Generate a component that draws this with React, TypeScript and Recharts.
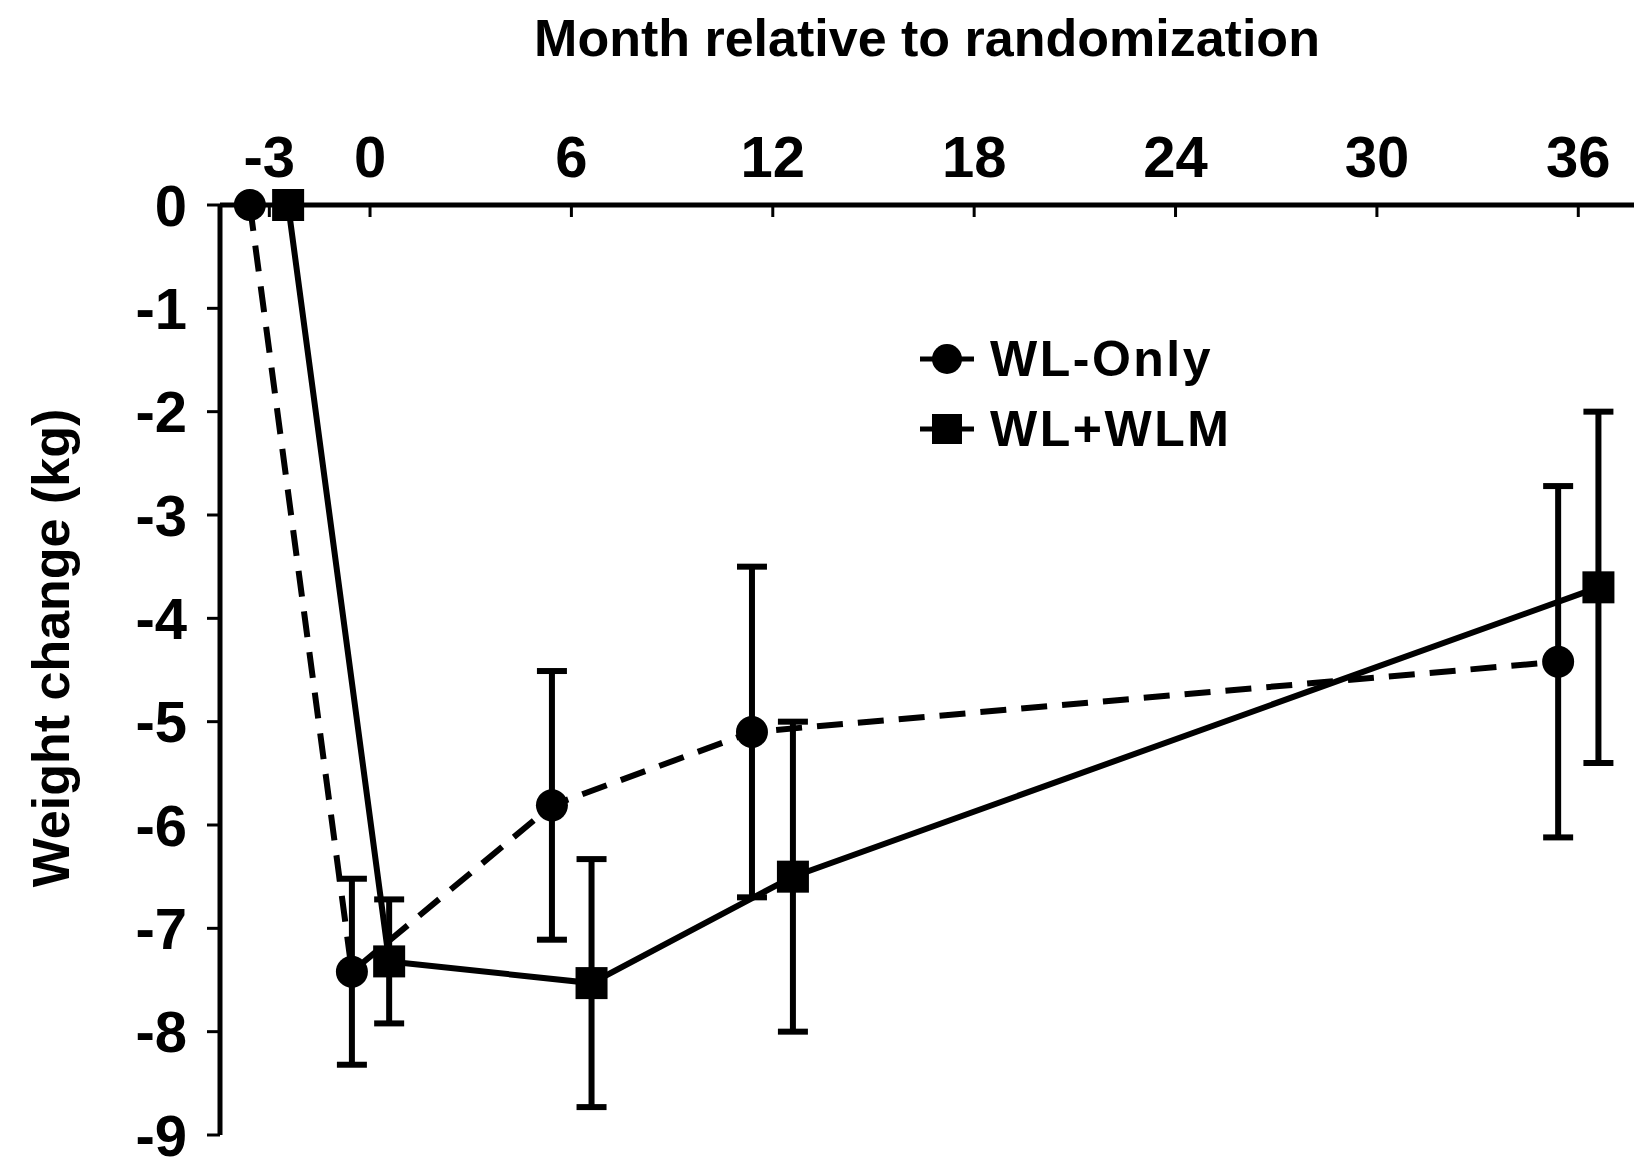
import React from 'react';
import { LineChart, Line, XAxis, YAxis, ErrorBar, Legend } from 'recharts';

const FONT = '"Liberation Sans", Arial, sans-serif';

const seriesNames = ['WL-Only', 'WL+WLM'];
const monthTicks = [-3, 0, 6, 12, 18, 24, 30, 36];
const weightTicks = [0, -1, -2, -3, -4, -5, -6, -7, -8, -9];

// WL-Only (circles, dashed line)
const wlOnlyMonth = [-3.58, -0.54, 5.42, 11.38, 35.4];
const wlOnlyChange = [0, -7.42, -5.81, -5.1, -4.42];
const wlOnlyErr = [null, 0.9, 1.3, 1.6, 1.7];

// WL+WLM (squares, solid line)
const wlmMonth = [-2.44, 0.57, 6.6, 12.6, 36.6];
const wlmChange = [0, -7.32, -7.53, -6.5, -3.7];
const wlmErr = [null, 0.6, 1.2, 1.5, 1.7];

const wlOnlyData = wlOnlyMonth.map((m, i) => ({ month: m, change: wlOnlyChange[i], err: wlOnlyErr[i] }));
const wlmData = wlmMonth.map((m, i) => ({ month: m, change: wlmChange[i], err: wlmErr[i] }));

const CircleDot = (props: any) => {
  const { cx, cy, index } = props;
  if (cx == null || cy == null) return <g key={`c-${index}`} />;
  return <circle key={`c-${index}`} cx={cx} cy={cy} r={16} fill="#000" />;
};

const SquareDot = (props: any) => {
  const { cx, cy, index } = props;
  if (cx == null || cy == null) return <g key={`s-${index}`} />;
  return <rect key={`s-${index}`} x={cx - 16} y={cy - 16} width={32} height={32} fill="#000" />;
};

function MonthTick({ x, y, payload }: any) {
  return (
    <g>
      <line x1={x} y1={y} x2={x} y2={y + 12} stroke="#000" strokeWidth={3} />
      <text x={x} y={y - 28} textAnchor="middle" fontSize={58} fontWeight="bold" fontFamily={FONT} fill="#000">
        {payload.value}
      </text>
    </g>
  );
}

function TopTitle({ viewBox }: any) {
  const cx = viewBox.x + viewBox.width / 2;
  return (
    <text x={cx} y={viewBox.y - 89} textAnchor="middle" fontSize={52} fontWeight="bold" fontFamily={FONT} fill="#000">
      Month relative to randomization
    </text>
  );
}

function SideTitle({ viewBox }: any) {
  const x = viewBox.x - 71;
  const y = viewBox.y + viewBox.height / 2 - 22;
  return (
    <text x={x} y={y} transform={`rotate(-90, ${x}, ${y})`} textAnchor="middle" fontSize={52} fontWeight="bold" fontFamily={FONT} fill="#000">
      Weight change (kg)
    </text>
  );
}

function LegendBox() {
  return (
    <div>
      {seriesNames.map((name, i) => (
        <div key={name} style={{ display: 'flex', alignItems: 'center', height: 70 }}>
          <svg width={58} height={40} style={{ marginRight: 14 }}>
            <line x1={2} y1={20} x2={56} y2={20} stroke="#000" strokeWidth={5} />
            {i === 0 ? <circle cx={29} cy={20} r={15} fill="#000" /> : <rect x={14} y={5} width={30} height={30} fill="#000" />}
          </svg>
          <span style={{ fontFamily: FONT, fontWeight: 'bold', fontSize: 50, letterSpacing: 2.5, color: '#000', lineHeight: 1 }}>
            {name}
          </span>
        </div>
      ))}
    </div>
  );
}

export default function App() {
  return (
    <div style={{ position: 'absolute', left: 0, top: 0, width: 1634, height: 1163, background: '#fff' }}>
      <LineChart width={1634} height={1163} margin={{ top: 145, right: 0, bottom: 28, left: 140 }}>
        <XAxis
          type="number"
          dataKey="month"
          orientation="top"
          height={60}
          domain={[-4.47, 37.66]}
          ticks={monthTicks}
          tick={<MonthTick />}
          tickSize={0}
          tickMargin={0}
          axisLine={{ stroke: '#000', strokeWidth: 5 }}
          tickLine={false}
          label={<TopTitle />}
        />
        <YAxis
          type="number"
          dataKey="change"
          width={80}
          domain={[-9, 0]}
          ticks={weightTicks}
          interval={0}
          tickSize={13}
          tickMargin={20}
          axisLine={{ stroke: '#000', strokeWidth: 5 }}
          tickLine={{ stroke: '#000', strokeWidth: 3 }}
          tick={{ fill: '#000', fontSize: 58, fontWeight: 'bold', fontFamily: FONT }}
          label={<SideTitle />}
        />
        <Legend
          layout="vertical"
          align="center"
          verticalAlign="middle"
          content={<LegendBox />}
          wrapperStyle={{ left: 918, top: 324, width: 360, height: 140 }}
        />
        <Line
          data={wlOnlyData}
          dataKey="change"
          name={seriesNames[0]}
          type="linear"
          stroke="#000"
          strokeWidth={6}
          strokeDasharray="26 15"
          dot={CircleDot}
          activeDot={false}
          isAnimationActive={false}
        >
          <ErrorBar dataKey="err" direction="y" width={15} stroke="#000" strokeWidth={6} />
        </Line>
        <Line
          data={wlmData}
          dataKey="change"
          name={seriesNames[1]}
          type="linear"
          stroke="#000"
          strokeWidth={6}
          dot={SquareDot}
          activeDot={false}
          isAnimationActive={false}
        >
          <ErrorBar dataKey="err" direction="y" width={15} stroke="#000" strokeWidth={6} />
        </Line>
      </LineChart>
    </div>
  );
}
